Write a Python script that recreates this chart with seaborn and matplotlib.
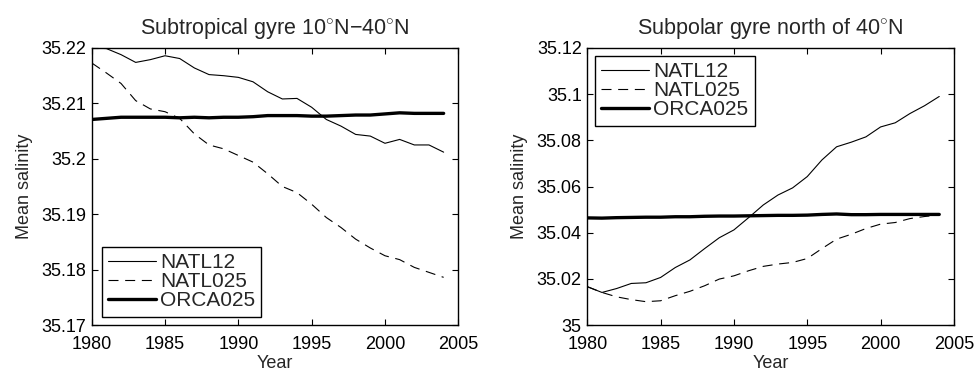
import numpy as np
import pandas as pd
import matplotlib
matplotlib.use("Agg")
import matplotlib.pyplot as plt
import seaborn as sns
from matplotlib.ticker import FuncFormatter, MultipleLocator

years = list(range(1980, 2005))
models = ["NATL12", "NATL025", "ORCA025"]

# Subtropical gyre 10N-40N
sub_natl12 = [35.2200, 35.2199, 35.2188, 35.2174, 35.2179, 35.2186, 35.2181, 35.2164,
              35.2152, 35.2150, 35.2147, 35.2139, 35.2121, 35.2108, 35.2109, 35.2093,
              35.2071, 35.2059, 35.2044, 35.2041, 35.2028, 35.2035, 35.2025, 35.2025,
              35.2012]
sub_natl025 = [35.2173, 35.2155, 35.2136, 35.2105, 35.2090, 35.2085, 35.2073, 35.2045,
               35.2025, 35.2018, 35.2006, 35.1994, 35.1973, 35.1950, 35.1939, 35.1918,
               35.1894, 35.1876, 35.1855, 35.1839, 35.1825, 35.1818, 35.1804, 35.1795,
               35.1786]
sub_orca025 = [35.2071, 35.2073, 35.2075, 35.2075, 35.2075, 35.2075, 35.2074, 35.2075,
               35.2074, 35.2075, 35.2075, 35.2076, 35.2078, 35.2078, 35.2078, 35.2077,
               35.2077, 35.2078, 35.2079, 35.2079, 35.2081, 35.2083, 35.2082, 35.2082,
               35.2082]

# Subpolar gyre north of 40N
spg_natl12 = [35.0166, 35.0141, 35.0158, 35.0180, 35.0183, 35.0206, 35.0249, 35.0282,
              35.0331, 35.0378, 35.0412, 35.0465, 35.0520, 35.0563, 35.0594, 35.0643,
              35.0715, 35.0772, 35.0792, 35.0815, 35.0858, 35.0876, 35.0916, 35.0950,
              35.0990]
spg_natl025 = [35.0166, 35.0141, 35.0122, 35.0110, 35.0101, 35.0105, 35.0127, 35.0146,
               35.0170, 35.0199, 35.0213, 35.0235, 35.0254, 35.0264, 35.0271, 35.0288,
               35.0331, 35.0372, 35.0393, 35.0418, 35.0437, 35.0444, 35.0461, 35.0470,
               35.0476]
spg_orca025 = [35.0464, 35.0463, 35.0465, 35.0466, 35.0467, 35.0467, 35.0469, 35.0469,
               35.0471, 35.0472, 35.0472, 35.0473, 35.0474, 35.0475, 35.0475, 35.0476,
               35.0479, 35.0481, 35.0478, 35.0478, 35.0479, 35.0479, 35.0479, 35.0479,
               35.0479]

titles = [r"Subtropical gyre 10$^{\circ}$N$-$40$^{\circ}$N",
          r"Subpolar gyre north of 40$^{\circ}$N"]

sns.set_theme(style="ticks")
plt.rcParams["font.family"] = ["Liberation Sans", "DejaVu Sans"]
plt.rcParams["mathtext.fontset"] = "custom"
plt.rcParams["mathtext.rm"] = "Liberation Sans"
plt.rcParams["axes.edgecolor"] = "black"
plt.rcParams["axes.linewidth"] = 1.0

fig = plt.figure(figsize=(9.76, 3.72), dpi=100)
W, H = 976, 372
ax1 = fig.add_axes([91.7 / W, 1 - 325 / H, 366.6 / W, 277 / H])
ax2 = fig.add_axes([587.3 / W, 1 - 325 / H, 366.6 / W, 277 / H])

styles = {
    "NATL12": dict(lw=0.8, ls="-"),
    "NATL025": dict(lw=0.8, ls=(0, (9, 6))),
    "ORCA025": dict(lw=2.4, ls="-"),
}

panels = [
    (ax1, [sub_natl12, sub_natl025, sub_orca025], (35.17, 35.22), 0.01,
     dict(loc="lower left", bbox_to_anchor=(0.0273, 0.030))),
    (ax2, [spg_natl12, spg_natl025, spg_orca025], (35.0, 35.12), 0.02,
     dict(loc="upper left", bbox_to_anchor=(0.021, 0.971))),
]

fmt = FuncFormatter(lambda v, p: (f"{v:.2f}".rstrip("0").rstrip(".")))

for i, (ax, series, ylim, ystep, legkw) in enumerate(panels):
    for m, vals in zip(models, series):
        df = pd.DataFrame({"Year": years, "Mean salinity": vals})
        sns.lineplot(data=df, x="Year", y="Mean salinity", ax=ax, color="black",
                     linewidth=styles[m]["lw"], linestyle=styles[m]["ls"], label=m)
    ax.set_xlim(1980, 2005)
    ax.set_ylim(*ylim)
    ax.xaxis.set_major_locator(MultipleLocator(5))
    ax.yaxis.set_major_locator(MultipleLocator(ystep))
    ax.yaxis.set_major_formatter(fmt)
    ax.tick_params(direction="in", length=4, width=0.8, top=True, right=True,
                   labelsize=13, colors="black", pad=4)
    ax.tick_params(axis="x", pad=8)
    for s in ax.spines.values():
        s.set_visible(True)
        s.set_color("black")
        s.set_linewidth(1.0)
    ax.set_xlabel("Year", fontsize=13, labelpad=1)
    ax.set_ylabel("Mean salinity", fontsize=13, labelpad=6)
    ax.set_title(titles[i], fontsize=15.5, pad=10)
    leg = ax.legend(fontsize=15, frameon=True, fancybox=False, borderaxespad=0,
                    handlelength=2.3, handletextpad=0.2, labelspacing=0.0,
                    borderpad=0.3, **legkw)
    leg.get_frame().set_edgecolor("black")
    leg.get_frame().set_linewidth(1.0)
    leg.get_frame().set_alpha(1)

fig.savefig("out.png", dpi=100, facecolor="white")
